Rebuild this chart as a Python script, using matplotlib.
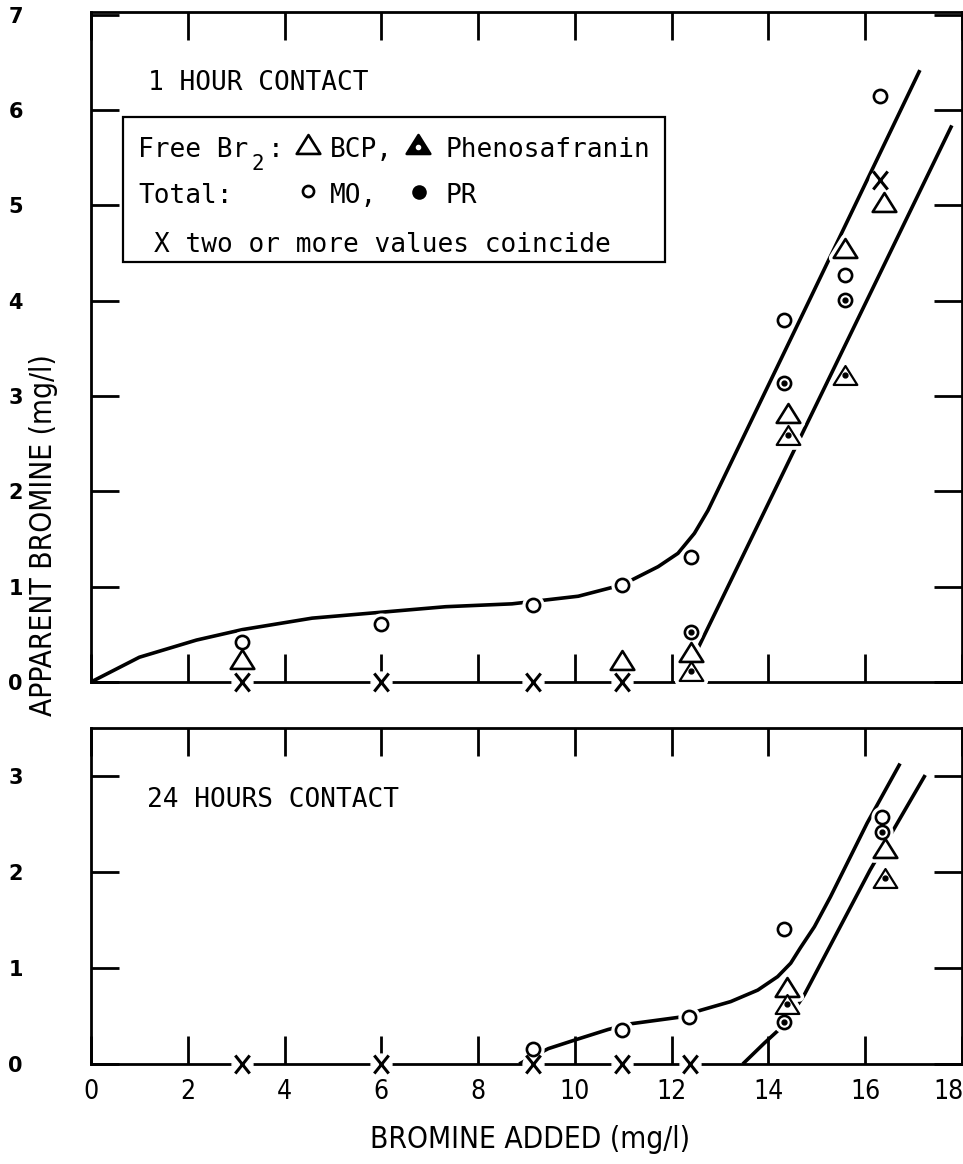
import matplotlib
matplotlib.use("Agg")
import matplotlib.pyplot as plt
from matplotlib.path import Path
from matplotlib.patches import Rectangle

# ---------------- data ----------------
# 1 hour contact
mo_1h_x = [3.13, 5.99, 9.14, 10.98, 12.40, 14.33, 15.59, 16.31]
mo_1h_y = [0.42, 0.61, 0.81, 1.02, 1.31, 3.80, 4.27, 6.15]
pr_1h_x = [12.40, 14.33, 15.59]
pr_1h_y = [0.52, 3.14, 4.01]
bcp_1h_x = [3.13, 10.98, 12.40, 14.41, 15.59, 16.38]
bcp_1h_y = [0.24, 0.23, 0.31, 2.82, 4.55, 5.04]
phs_1h_x = [12.40, 14.41, 15.59]
phs_1h_y = [0.12, 2.59, 3.22]
coin_1h_x = [3.13, 5.99, 9.14, 10.98, 16.31]
coin_1h_y = [0.0, 0.0, 0.0, 0.0, 5.27]
total_curve_1h_x = [0.0, 1.0, 2.18, 3.13, 4.57, 5.95, 7.33, 8.70, 10.07, 10.98,
                    11.72, 12.13, 12.47, 12.75, 12.95, 14.85, 17.13]
total_curve_1h_y = [0.0, 0.26, 0.44, 0.55, 0.67, 0.73, 0.79, 0.82, 0.90, 1.02,
                    1.21, 1.35, 1.56, 1.80, 2.01, 4.01, 6.42]
free_curve_1h_x = [12.55, 17.79]
free_curve_1h_y = [0.36, 5.84]

# 24 hours contact
mo_24h_x = [9.14, 10.98, 12.36, 14.33, 16.35]
mo_24h_y = [0.16, 0.35, 0.49, 1.41, 2.57]
pr_24h_x = [14.33, 16.35]
pr_24h_y = [0.44, 2.42]
bcp_24h_x = [14.39, 16.41]
bcp_24h_y = [0.80, 2.25]
phs_24h_x = [14.39, 16.41]
phs_24h_y = [0.63, 1.94]
coin_24h_x = [3.13, 5.99, 9.14, 10.98, 12.38]
coin_24h_y = [0.0, 0.0, 0.0, 0.0, 0.0]
total_curve_24h_x = [8.85, 9.14, 9.45, 10.00, 10.69, 11.17, 12.20, 12.60, 13.22,
                     13.78, 14.19, 14.46, 14.66, 14.95, 15.28, 16.04, 16.72]
total_curve_24h_y = [0.0, 0.08, 0.16, 0.25, 0.36, 0.42, 0.49, 0.56, 0.65,
                     0.77, 0.91, 1.05, 1.21, 1.43, 1.74, 2.51, 3.13]
free_curve_24h_x = [13.47, 13.92, 14.33, 14.74, 16.10, 17.24]
free_curve_24h_y = [0.0, 0.22, 0.41, 0.72, 2.02, 3.01]

x_ticks = [0, 2, 4, 6, 8, 10, 12, 14, 16, 18]
x_tick_labels = ["0", "2", "4", "6", "8", "10", "12", "14", "16", "18"]
y_ticks_1h = [0, 1, 2, 3, 4, 5, 6, 7]
y_ticks_24h = [0, 1, 2, 3]

# ---------------- styling ----------------
W, H = 963, 1164
MONO = "DejaVu Sans Mono"
COND = dict(family="DejaVu Sans", stretch="condensed")

TRI = Path([(-1, -0.8), (1, -0.8), (0, 0.8), (-1, -0.8)], closed=True)
XM = Path([(-0.8, -1), (0.8, 1), (-0.8, 1), (0.8, -1)],
          [Path.MOVETO, Path.LINETO, Path.MOVETO, Path.LINETO])

fig = plt.figure(figsize=(W / 100, H / 100), dpi=100)
ax1 = fig.add_axes([91 / W, 1 - 682 / H, 871 / W, 670 / H])
ax2 = fig.add_axes([91 / W, 1 - 1064 / H, 871 / W, 336 / H])


def style_axes(ax, ymax, yticks, show_xlabels):
    ax.set_xlim(0, 18)
    ax.set_ylim(0, ymax)
    ax.set_xticks(x_ticks)
    ax.set_xticklabels(x_tick_labels[:-1] + [""])
    ax.set_yticks(yticks)
    for s in ax.spines.values():
        s.set_linewidth(2.0)
    ax.tick_params(direction="in", length=20, width=2.0, top=True, right=True,
                   labelbottom=show_xlabels)
    ax.tick_params(axis="y", pad=49, labelsize=15)
    ax.tick_params(axis="x", pad=11, labelsize=19)
    for lab in ax.get_yticklabels():
        lab.set_fontfamily("DejaVu Sans")
        lab.set_fontweight("bold")
    for lab in ax.get_xticklabels():
        lab.set_fontfamily("DejaVu Sans")
        lab.set_fontstretch("condensed")


def draw_panel(ax, curves, series):
    for cx, cy in curves:
        ax.plot(cx, cy, color="black", lw=2.6, zorder=2, solid_capstyle="butt",
                solid_joinstyle="round")
    # white halos to break lines around symbols (as in the original drawing)
    for kind, xs, ys in series:
        if kind in ("bcp", "phs"):
            ax.plot(xs, ys, ls="none", marker=TRI, ms=17, mfc="white", mec="white",
                    mew=7, zorder=3, clip_on=False)
        else:
            ax.plot(xs, ys, ls="none", marker="o", ms=15, mfc="white", mec="white",
                    zorder=3, clip_on=False)
    for kind, xs, ys in series:
        if kind == "mo":
            ax.plot(xs, ys, ls="none", marker="o", ms=9.5, mfc="white", mec="black",
                    mew=1.9, zorder=4, clip_on=False)
        elif kind == "pr":
            ax.plot(xs, ys, ls="none", marker="o", ms=9.5, mfc="white", mec="black",
                    mew=1.9, zorder=4, clip_on=False)
            ax.plot(xs, ys, ls="none", marker="o", ms=3.5, mfc="black", mec="black",
                    zorder=5, clip_on=False)
        elif kind == "bcp":
            ax.plot(xs, ys, ls="none", marker=TRI, ms=17, mfc="white", mec="black",
                    mew=1.9, zorder=4, clip_on=False)
        elif kind == "phs":
            ax.plot(xs, ys, ls="none", marker=TRI, ms=17, mfc="white", mec="black",
                    mew=1.6, zorder=4, clip_on=False)
            ax.plot(xs, ys, ls="none", marker="o", ms=3.5, mfc="black", mec="black",
                    zorder=5, clip_on=False)
        else:
            ax.plot(xs, ys, ls="none", marker=XM, ms=13, mfc="none", mec="black",
                    mew=2.2, zorder=4, clip_on=False)


draw_panel(ax1,
           [(total_curve_1h_x, total_curve_1h_y), (free_curve_1h_x, free_curve_1h_y)],
           [("mo", mo_1h_x, mo_1h_y), ("pr", pr_1h_x, pr_1h_y),
            ("bcp", bcp_1h_x, bcp_1h_y), ("phs", phs_1h_x, phs_1h_y),
            ("x", coin_1h_x, coin_1h_y)])
draw_panel(ax2,
           [(total_curve_24h_x, total_curve_24h_y), (free_curve_24h_x, free_curve_24h_y)],
           [("mo", mo_24h_x, mo_24h_y), ("pr", pr_24h_x, pr_24h_y),
            ("bcp", bcp_24h_x, bcp_24h_y), ("phs", phs_24h_x, phs_24h_y),
            ("x", coin_24h_x, coin_24h_y)])

style_axes(ax1, 7.03, y_ticks_1h, False)
style_axes(ax2, 3.5, y_ticks_24h, True)

# last x label ("18") kept inside the figure
ax2.annotate(x_tick_labels[-1], xy=(x_ticks[-1], 0), xycoords=("data", "axes fraction"),
             xytext=(1, -11), textcoords="offset points", ha="right", va="top",
             fontsize=19, **COND)


def P(x, y):
    return (x / W, 1 - y / H)


# panel titles
fig.text(*P(148, 90), "1 HOUR CONTACT", family=MONO, fontsize=18.8, va="baseline")
fig.text(*P(147, 807), "24 HOURS CONTACT", family=MONO, fontsize=18.8, va="baseline")

# axis labels
fig.text(*P(44, 535), "APPARENT BROMINE (mg/l)", rotation=90, ha="center", va="center",
         fontsize=21.4, **COND)
fig.text(*P(530, 1140), "BROMINE ADDED (mg/l)", ha="center", va="center",
         fontsize=21.4, **COND)

# legend box
x0, y0 = P(123, 262)
x1, y1 = P(665, 117)
fig.patches.append(Rectangle((x0, y0), x1 - x0, y1 - y0, transform=fig.transFigure,
                             facecolor="white", edgecolor="black", lw=1.6, zorder=6))
fs = 18.8
fig.text(*P(138, 157), "Free Br", family=MONO, fontsize=fs, va="baseline", zorder=7)
fig.text(*P(251, 170), "2", family=MONO, fontsize=15, va="baseline", zorder=7)
fig.text(*P(268, 157), ":", family=MONO, fontsize=fs, va="baseline", zorder=7)
fig.text(*P(330, 157), "BCP,", family=MONO, fontsize=fs, va="baseline", zorder=7)
fig.text(*P(445, 157), "Phenosafranin", family=MONO, fontsize=fs, va="baseline", zorder=7)
fig.text(*P(138, 203), "Total:", family=MONO, fontsize=fs, va="baseline", zorder=7)
fig.text(*P(330, 203), "MO,", family=MONO, fontsize=fs, va="baseline", zorder=7)
fig.text(*P(445, 203), "PR", family=MONO, fontsize=fs, va="baseline", zorder=7)
fig.text(*P(154, 252), "X two or more values coincide", family=MONO, fontsize=fs,
         va="baseline", zorder=7)

lt = fig.transFigure
fig.lines.append(plt.Line2D(*zip(P(308, 144)), transform=lt, ls="none", marker=TRI,
                            ms=17, mfc="white", mec="black", mew=1.9, zorder=7))
fig.lines.append(plt.Line2D(*zip(P(418, 144)), transform=lt, ls="none", marker=TRI,
                            ms=17, mfc="black", mec="black", mew=1.9, zorder=7))
fig.lines.append(plt.Line2D(*zip(P(418, 147)), transform=lt, ls="none", marker="o",
                            ms=3, mfc="white", mec="white", zorder=8))
fig.lines.append(plt.Line2D(*zip(P(308, 191)), transform=lt, ls="none", marker="o",
                            ms=8, mfc="white", mec="black", mew=1.9, zorder=7))
fig.lines.append(plt.Line2D(*zip(P(419, 192)), transform=lt, ls="none", marker="o",
                            ms=9, mfc="black", mec="black", mew=1.5, zorder=7))

fig.savefig("out.png", dpi=100)
